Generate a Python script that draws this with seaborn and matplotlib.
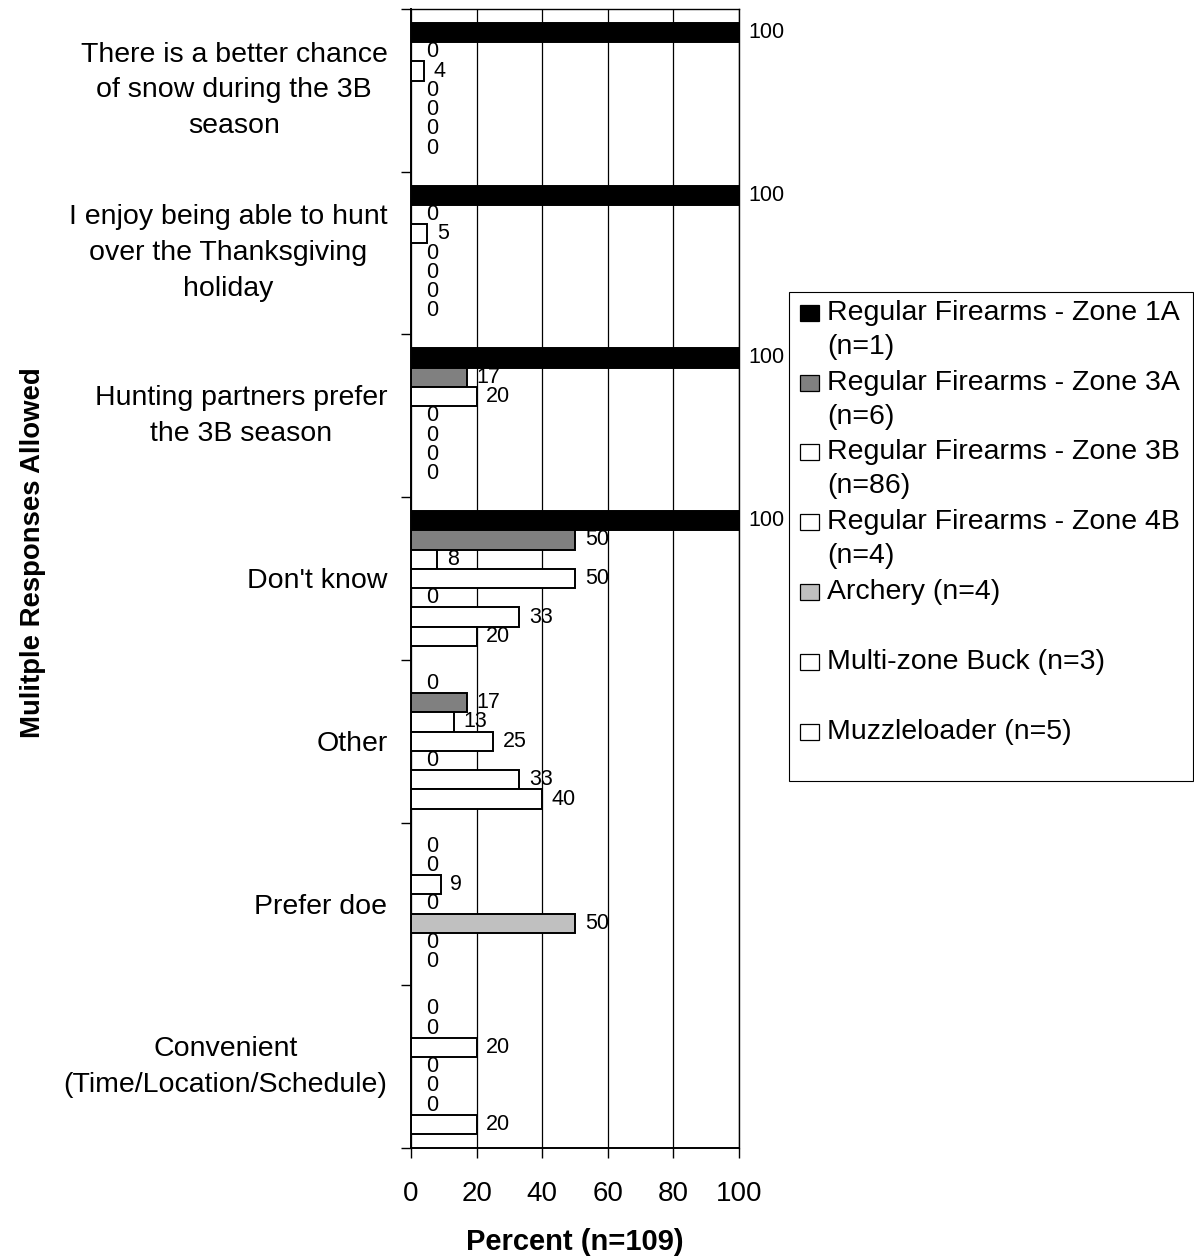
import matplotlib
matplotlib.use("Agg")
import matplotlib.pyplot as plt
import matplotlib.transforms as mtransforms
import seaborn as sns
import pandas as pd
import numpy as np
from matplotlib.patches import Rectangle

# ---------------- data ----------------
categories = [
    "There is a better chance\nof snow during the 3B\nseason",
    "I enjoy being able to hunt\nover the Thanksgiving\nholiday",
    "Hunting partners prefer\nthe 3B season",
    "Don't know",
    "Other",
    "Prefer doe",
    "Convenient\n(Time/Location/Schedule)",
]
series_names = [
    "Regular Firearms - Zone 1A (n=1)",
    "Regular Firearms - Zone 3A (n=6)",
    "Regular Firearms - Zone 3B (n=86)",
    "Regular Firearms - Zone 4B (n=4)",
    "Archery (n=4)",
    "Multi-zone Buck (n=3)",
    "Muzzleloader (n=5)",
]
legend_lines = [
    ["Regular Firearms - Zone 1A", "(n=1)"],
    ["Regular Firearms - Zone 3A", "(n=6)"],
    ["Regular Firearms - Zone 3B", "(n=86)"],
    ["Regular Firearms - Zone 4B", "(n=4)"],
    ["Archery (n=4)"],
    ["Multi-zone Buck (n=3)"],
    ["Muzzleloader (n=5)"],
]
zone_1a = [100, 100, 100, 100, 0, 0, 0]
zone_3a = [0, 0, 17, 50, 17, 0, 0]
zone_3b = [4, 5, 20, 8, 13, 9, 20]
zone_4b = [0, 0, 0, 50, 25, 0, 0]
archery = [0, 0, 0, 0, 0, 50, 0]
multi_zone = [0, 0, 0, 33, 33, 0, 0]
muzzleloader = [0, 0, 0, 20, 40, 0, 20]
x_ticks = [0, 20, 40, 60, 80, 100]

colors = ["#000000", "#808080", "#FFFFFF", "#FFFFFF", "#C0C0C0", "#FFFFFF", "#FFFFFF"]

all_series = [zone_1a, zone_3a, zone_3b, zone_4b, archery, multi_zone, muzzleloader]
rows = []
for name, vals in zip(series_names, all_series):
    for cat, v in zip(categories, vals):
        rows.append({"category": cat, "series": name, "pct": v})
df = pd.DataFrame(rows)

# ---------------- style ----------------
sns.set_style("ticks")
plt.rcParams["font.family"] = ["Liberation Sans", "DejaVu Sans"]
for k in ["text.color", "axes.labelcolor", "xtick.color", "ytick.color", "axes.edgecolor"]:
    plt.rcParams[k] = "black"

W, H = 1194, 1260
fig = plt.figure(figsize=(W / 100, H / 100), dpi=100)
left, right, top, bottom = 411, 739, 9, 1148
ax = fig.add_axes([left / W, 1 - bottom / H, (right - left) / W, (bottom - top) / H])

sns.barplot(
    data=df, y="category", x="pct", hue="series", orient="h",
    order=categories, hue_order=series_names,
    palette=colors, saturation=1, width=0.83, dodge=True,
    edgecolor="black", linewidth=1.4, legend=False, ax=ax,
)

for cont, vals in zip(ax.containers, all_series):
    nonzero = [f"{v:g}" if v != 0 else "" for v in vals]
    zero = ["0" if v == 0 else "" for v in vals]
    ax.bar_label(cont, labels=nonzero, padding=7, fontsize=15.5, color="black")
    ax.bar_label(cont, labels=zero, padding=11, fontsize=15.5, color="black")

ax.set_xlim(0, 100)
ax.set_ylim(len(categories) - 0.5, -0.5)
ax.set_xticks(x_ticks)
ax.set_xticklabels([str(t) for t in x_ticks], fontsize=20)
ax.tick_params(axis="x", which="major", length=7, width=1, direction="out", pad=17, color="black")

ax.set_yticks(range(len(categories)))
ax.set_yticklabels(categories, fontsize=20.5, multialignment="center", linespacing=1.49)
shift = mtransforms.ScaledTranslation(0, -3 / 100, fig.dpi_scale_trans)
for lab in ax.get_yticklabels():
    if "\n" in lab.get_text():
        lab.set_va("center")
        lab.set_transform(lab.get_transform() + shift)
ax.tick_params(axis="y", which="major", length=0, pad=17)
ax.set_yticks(np.arange(-0.5, len(categories), 1), minor=True)
ax.tick_params(axis="y", which="minor", length=7, width=1, direction="out", color="black")

ax.xaxis.grid(True, color="black", linewidth=0.9)
ax.yaxis.grid(False)
ax.set_axisbelow(True)
for s in ax.spines.values():
    s.set_visible(True)
    s.set_color("black")
    s.set_linewidth(1.0)
ax.spines["left"].set_linewidth(1.4)
ax.spines["bottom"].set_linewidth(1.4)

ax.set_ylabel("")
ax.set_xlabel("Percent (n=109)", fontsize=21, fontweight="bold", labelpad=15)

fig.text(33 / W, 1 - 553 / H, "Mulitple Responses Allowed", rotation=90,
         fontsize=19.8, fontweight="bold", ha="center", va="center")

# ---------------- legend (drawn in figure coords) ----------------
fig.patches.append(Rectangle((789 / W, 1 - 781 / H), (1193 - 789) / W, (781 - 292) / H,
                             transform=fig.transFigure, fill=False,
                             edgecolor="black", linewidth=0.8))
first_line_y = [313, 383, 452, 522, 592, 662, 732]
for lines, col, y in zip(legend_lines, colors, first_line_y):
    fig.patches.append(Rectangle((800 / W, 1 - (y + 8) / H), 19 / W, 16 / H,
                                 transform=fig.transFigure, facecolor=col,
                                 edgecolor="black", linewidth=0.9))
    for i, txt in enumerate(lines):
        fig.text(827 / W, 1 - (y + i * 34) / H, txt, fontsize=20.5,
                 ha="left", va="center")

fig.savefig("out.png", dpi=100)
